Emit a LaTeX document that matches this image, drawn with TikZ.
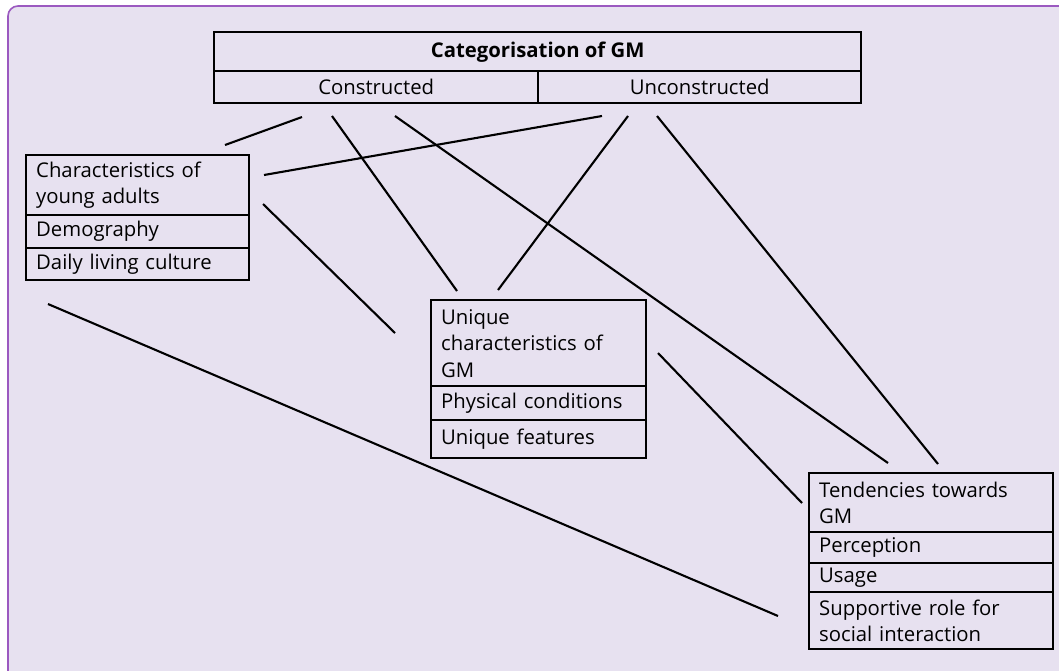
\documentclass[tikz,border=0pt]{standalone}
\usepackage{fontspec}
\setmainfont{Open Sans}
\definecolor{panel}{HTML}{E7E1F0}
\definecolor{frame}{HTML}{9B59C0}
\begin{document}
\begin{tikzpicture}[x=1pt,y=-1pt,
  txt/.style={font=\fontsize{20.3}{26.5}\selectfont},
  cell/.style={txt, draw=black, line width=2.4pt, anchor=north west, inner ysep=0pt, inner xsep=10pt, align=left},
  hcell/.style={txt, draw=black, line width=2.4pt, anchor=north west, inner sep=0pt, align=center},
  link/.style={line width=2.1pt}]
\useasboundingbox (0,0) rectangle (1059,670);
\fill[white] (0,0) rectangle (1059,670);
\fill[panel, rounded corners=10pt] (8,6) rectangle (1090,700);
\draw[frame, line width=1.6pt, rounded corners=10pt] (1090,6) -- (8,6) -- (8,700);

% top table
\node[hcell, minimum width=647, minimum height=39, font=\fontsize{20.3}{26.5}\selectfont\bfseries] (title) at (213,31) {Categorisation of GM};
\node[hcell, minimum width=324, minimum height=32] (con) at (213,70) {Constructed};
\node[hcell, minimum width=323, minimum height=32] (uncon) at (537,70) {Unconstructed};

% left box
\node[cell, text width=203, minimum height=60] (cya) at (25,154) {Characteristics of\\young adults};
\node[cell, text width=203, minimum height=33] (demo) at (25,214) {Demography};
\node[cell, text width=203, minimum height=32] (daily) at (25,247) {Daily living culture};

% middle box
\node[cell, text width=195, minimum height=86] (ucg) at (430,299) {Unique\\characteristics of\\GM};
\node[cell, text width=195, minimum height=34] (phys) at (430,385) {Physical conditions};
\node[cell, text width=195, minimum height=38] (ufeat) at (430,419) {Unique features};

% right box
\node[cell, text width=224, minimum height=59] (tend) at (808,472) {Tendencies towards\\GM};
\node[cell, text width=224, minimum height=31] (perc) at (808,531) {Perception};
\node[cell, text width=224, minimum height=29] (usage) at (808,562) {Usage};
\node[cell, text width=224, minimum height=57] (supp) at (808,591) {Supportive role for\\social interaction};

% connector end points
\coordinate (a1) at (225,145); \coordinate (b1) at (302,117);
\coordinate (a2) at (264,175); \coordinate (b2) at (602,116);
\coordinate (a3) at (332,116); \coordinate (b3) at (457,291);
\coordinate (a4) at (395,116); \coordinate (b4) at (888,463);
\coordinate (a5) at (263,204); \coordinate (b5) at (395,333);
\coordinate (a6) at (628,116); \coordinate (b6) at (498,290);
\coordinate (a7) at (657,116); \coordinate (b7) at (938,464);
\coordinate (a8) at (658,353); \coordinate (b8) at (802,503);
\coordinate (a9) at (48,304);  \coordinate (b9) at (778,616);

\draw[link] (a1) -- (b1);
\draw[link] (a2) -- (b2);
\draw[link] (a3) -- (b3);
\draw[link] (a4) -- (b4);
\draw[link] (a5) -- (b5);
\draw[link] (a6) -- (b6);
\draw[link] (a7) -- (b7);
\draw[link] (a8) -- (b8);
\draw[link] (a9) -- (b9);
\end{tikzpicture}
\end{document}
